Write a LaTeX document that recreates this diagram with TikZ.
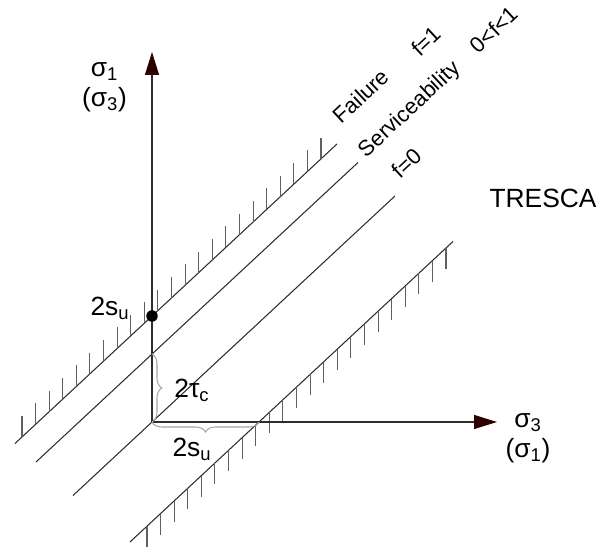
\documentclass[tikz,border=0pt]{standalone}
\usepackage{fontspec}
\setmainfont{Liberation Sans}
\usetikzlibrary{arrows.meta,decorations.pathreplacing,calc}
\definecolor{axisdark}{RGB}{45,0,0}
\definecolor{linegray}{RGB}{45,45,45}
\definecolor{hatchgray}{RGB}{95,95,95}
\definecolor{bracegray}{RGB}{165,165,165}

\begin{document}
\begin{tikzpicture}[
    every node/.style={font=\fontsize{15}{17}\selectfont, inner sep=1pt},
    axis/.style={draw=linegray, line width=0.6pt, -{Triangle[length=0.46cm, width=0.28cm, color=axisdark]}},
    limit/.style={draw=linegray, line width=0.6pt},
    hatch/.style={draw=hatchgray, line width=0.6pt},
    gap/.style={draw=bracegray, line width=0.6pt, decorate, decoration={brace, amplitude=0.2cm}},
    tag/.style={rotate=43, font=\fontsize{12.5}{15}\selectfont},
]
\useasboundingbox (-3.04,-2.56) rectangle (8.94,8.44);

\coordinate (O) at (0,0);
\coordinate (ytip) at (0,7.4);
\coordinate (xtip) at (6.9,0);
\coordinate (tc) at (0,1.36);
\coordinate (sx) at (2.14,0);

% limit lines
\draw[limit] (-2.74,-0.43) -- (3.7,5.56);
\draw[limit] (-2.32,-0.80) -- (4.12,5.19);
\draw[limit] (-1.58,-1.47) -- (4.86,4.52);
\draw[limit] (-0.44,-2.40) -- (6.02,3.61);

% hatching
\coordinate (fa) at (-2.6,-0.298);
\coordinate (fb) at (3.38,5.263);
\coordinate (la) at (-0.1,-2.083);
\coordinate (lb) at (5.88,3.478);
\foreach \i in {0,...,22} {
    \draw[hatch] ($(fa)!\i/22!(fb)$) -- ++(0,0.42);
    \draw[hatch] ($(la)!\i/22!(lb)$) -- ++(0,-0.42);
}

\draw[axis] (O) -- (ytip);
\draw[axis] (O) -- (xtip);

\node[circle, fill=black, inner sep=0pt, minimum size=0.23cm] (su) at (0,2.12) {};

\draw[gap] (tc) -- (O);
\draw[gap] (sx) -- (O);

\node[align=center] (ylab) at (-0.95,6.7) {σ\textsubscript{1}\\(σ\textsubscript{3})};
\node[align=center] (xlab) at (7.52,-0.33) {σ\textsubscript{3}\\(σ\textsubscript{1})};
\node (sulab) at (-0.84,2.28) {2s\textsubscript{u}};
\node (tclab) at (0.8,0.64) {2τ\textsubscript{c}};
\node (sxlab) at (0.8,-0.54) {2s\textsubscript{u}};
\node (tresca) at (7.82,4.48) {TRESCA};

\node[tag] (fail) at (4.18,6.52) {Failure};
\node[tag] (fone) at (5.48,7.62) {f=1};
\node[tag] (serv) at (5.16,6.24) {Serviceability};
\node[tag] (fmid) at (6.84,7.84) {0<f<1};
\node[tag] (fzero) at (5.1,5.18) {f=0};
\end{tikzpicture}
\end{document}
